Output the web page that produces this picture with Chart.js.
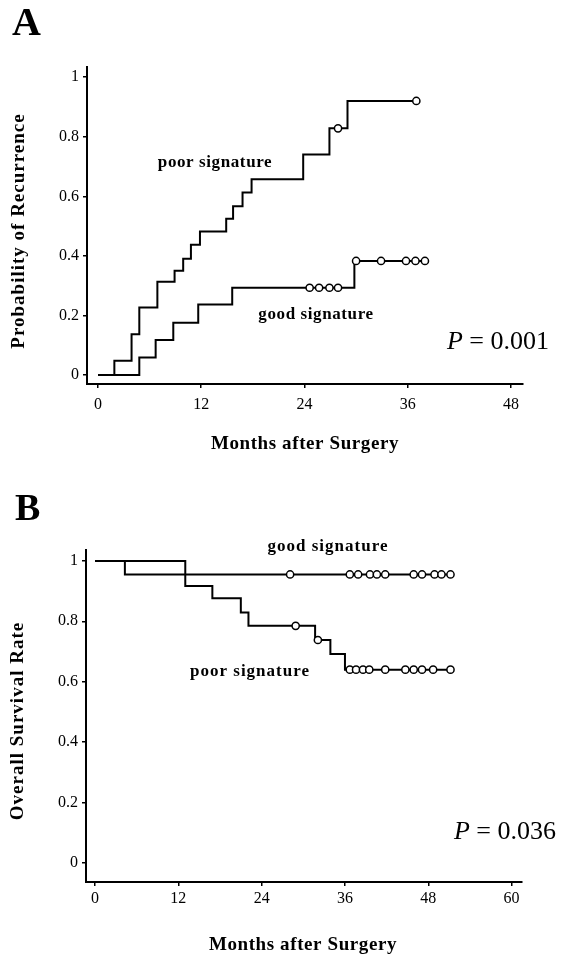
<!DOCTYPE html>
<html>
<head>
<meta charset="utf-8">
<script src="https://cdn.jsdelivr.net/npm/chart.js@4.4.0/dist/chart.umd.min.js"></script>
<style>
  html, body { margin: 0; padding: 0; background: #fff; }
  .panel { position: absolute; left: 0; width: 568px; }
  #wrapA { top: 0; height: 478px; }
  #wrapB { top: 478px; height: 479px; }
</style>
</head>
<body>
<div class="panel" id="wrapA"><canvas id="chartA"></canvas></div>
<div class="panel" id="wrapB"><canvas id="chartB"></canvas></div>
<script>
// ---- data ----
const yTicks = [0, 0.2, 0.4, 0.6, 0.8, 1];
const monthTicksA = [0, 12, 24, 36, 48];
const monthTicksB = [0, 12, 24, 36, 48, 60];

// A: probability of recurrence
const poorTimesA = [0, 1.9, 3.9, 4.8, 6.9, 8.9, 9.9, 10.8, 11.85, 14.9, 15.7, 16.8, 17.85, 23.85, 26.9, 29.0, 37.0];
const poorProbA = [0, 0.048, 0.137, 0.227, 0.313, 0.35, 0.39, 0.437, 0.482, 0.525, 0.567, 0.613, 0.657, 0.74, 0.828, 0.92, 0.92];
const poorCensorA = [27.9, 37.0];
const goodTimesA = [0, 4.8, 6.7, 8.75, 11.65, 15.6, 29.8, 38.0];
const goodProbA = [0, 0.059, 0.118, 0.176, 0.237, 0.293, 0.383, 0.383];
const goodCensorA = [24.6, 25.7, 26.9, 27.9, 30.0, 32.9, 35.8, 36.9, 38.0];

// B: overall survival
const goodTimesB = [0, 4.3, 51.2];
const goodSurvB = [1, 0.955, 0.955];
const goodCensorB = [28.1, 36.7, 37.9, 39.6, 40.6, 41.8, 45.9, 47.1, 48.9, 49.9, 51.2];
const poorTimesB = [0, 13.0, 16.9, 21.0, 22.1, 31.7, 33.9, 36.0, 51.2];
const poorSurvB = [1, 0.917, 0.876, 0.829, 0.785, 0.738, 0.692, 0.64, 0.64];
const poorCensorB = [28.9, 32.1, 36.7, 37.6, 38.6, 39.5, 41.8, 44.7, 45.9, 47.1, 48.7, 51.2];

const SERIF = "'Liberation Serif', 'DejaVu Serif', serif";

function toPoints(times, vals) {
  return times.map((t, i) => ({ x: t, y: vals[i] }));
}

// value of a KM step curve at time t
function valueAt(times, vals, t) {
  let v = vals[0];
  for (let i = 0; i < times.length; i++) {
    if (times[i] <= t) v = vals[i];
  }
  return v;
}

function censorPoints(censor, times, vals) {
  return censor.map(t => ({ x: t, y: valueAt(times, vals, t) }));
}

function curve(points) {
  return {
    type: "line",
    data: points,
    stepped: true,
    borderColor: "#000",
    borderWidth: 2,
    pointRadius: 0,
    fill: false
  };
}

function marks(points) {
  return {
    type: "scatter",
    data: points,
    pointStyle: "circle",
    pointRadius: 3.6,
    pointBackgroundColor: "#fff",
    pointBorderColor: "#000",
    pointBorderWidth: 1.5
  };
}

// draws the panel letter, curve labels, p value and axis titles
const textPlugin = {
  id: "panelText",
  afterDraw(chart, args, opts) {
    const ctx = chart.ctx;
    ctx.save();
    ctx.fillStyle = "#000";
    ctx.textBaseline = "middle";
    (opts.items || []).forEach(it => {
      ctx.save();
      ctx.translate(it.x, it.y);
      if (it.rotate) ctx.rotate(it.rotate);
      ctx.letterSpacing = it.spacing || "0px";
      if (it.parts) {
        let total = 0;
        it.parts.forEach(p => { ctx.font = p.font; total += ctx.measureText(p.text).width; });
        let cx = -total / 2;
        ctx.textAlign = "left";
        it.parts.forEach(p => {
          ctx.font = p.font;
          ctx.fillText(p.text, cx, 0);
          cx += ctx.measureText(p.text).width;
        });
      } else {
        ctx.font = it.font;
        ctx.textAlign = it.align || "center";
        ctx.fillText(it.text, 0, 0);
      }
      ctx.restore();
    });
    ctx.restore();
  }
};

function axes(xMin, xMax, xTicks, yMin, yMax, xHeight, yWidth, xPad) {
  const tickFont = { family: SERIF, size: 16 };
  return {
    x: {
      type: "linear",
      min: xMin,
      max: xMax,
      afterBuildTicks: s => { s.ticks = xTicks.map(v => ({ value: v })); },
      afterFit: s => { s.height = xHeight; },
      grid: { drawOnChartArea: false, color: "#000", tickLength: 4, lineWidth: 1.5 },
      border: { color: "#000", width: 2 },
      ticks: { color: "#000", font: tickFont, padding: xPad, maxRotation: 0 }
    },
    y: {
      type: "linear",
      min: yMin,
      max: yMax,
      afterBuildTicks: s => { s.ticks = yTicks.map(v => ({ value: v })); },
      afterFit: s => { s.width = yWidth; },
      grid: { drawOnChartArea: false, color: "#000", tickLength: 4, lineWidth: 1.5 },
      border: { color: "#000", width: 2 },
      ticks: { color: "#000", font: tickFont, padding: 4, callback: v => String(v) }
    }
  };
}

const labelFont = "bold 17px " + SERIF;
const titleFont = "bold 19px " + SERIF;

new Chart(document.getElementById("chartA"), {
  data: {
    datasets: [
      marks(censorPoints(poorCensorA, poorTimesA, poorProbA)),
      marks(censorPoints(goodCensorA, goodTimesA, goodProbA)),
      curve(toPoints(poorTimesA, poorProbA)),
      curve(toPoints(goodTimesA, goodProbA))
    ]
  },
  options: {
    responsive: true,
    maintainAspectRatio: false,
    animation: false,
    layout: { padding: { top: 67, right: 45, left: 0, bottom: 0 } },
    scales: axes(-1.28, 49.4, monthTicksA, -0.03, 1.034, 94, 87, 7),
    plugins: {
      legend: { display: false },
      tooltip: { enabled: false },
      panelText: {
        items: [
          { text: "A", x: 12, y: 25, font: "bold 40px " + SERIF, align: "left" },
          { text: "poor signature", x: 215, y: 163, font: labelFont, spacing: "0.6px" },
          { text: "good signature", x: 316, y: 315, font: labelFont, spacing: "0.6px" },
          { parts: [
              { text: "P", font: "italic 26px " + SERIF },
              { text: " = 0.001", font: "26px " + SERIF }
            ], x: 498, y: 342 },
          { text: "Probability of Recurrence", x: 19, y: 231, rotate: -Math.PI / 2, font: titleFont, spacing: "1px" },
          { text: "Months after Surgery", x: 305, y: 444, font: titleFont, spacing: "0.6px" }
        ]
      }
    }
  },
  plugins: [textPlugin]
});

new Chart(document.getElementById("chartB"), {
  data: {
    datasets: [
      marks(censorPoints(goodCensorB, goodTimesB, goodSurvB)),
      marks(censorPoints(poorCensorB, poorTimesB, poorSurvB)),
      curve(toPoints(goodTimesB, goodSurvB)),
      curve(toPoints(poorTimesB, poorSurvB))
    ]
  },
  options: {
    responsive: true,
    maintainAspectRatio: false,
    animation: false,
    layout: { padding: { top: 72, right: 46, left: 0, bottom: 0 } },
    scales: axes(-1.3, 61.5, monthTicksB, -0.063, 1.036, 75, 86, 3),
    plugins: {
      legend: { display: false },
      tooltip: { enabled: false },
      panelText: {
        items: [
          { text: "B", x: 15, y: 32, font: "bold 38px " + SERIF, align: "left" },
          { text: "good signature", x: 328, y: 69, font: labelFont, spacing: "1px" },
          { text: "poor signature", x: 250, y: 194, font: labelFont, spacing: "1px" },
          { parts: [
              { text: "P", font: "italic 26px " + SERIF },
              { text: " = 0.036", font: "26px " + SERIF }
            ], x: 505, y: 354 },
          { text: "Overall Survival Rate", x: 18, y: 243, rotate: -Math.PI / 2, font: titleFont, spacing: "1px" },
          { text: "Months after Surgery", x: 303, y: 467, font: titleFont, spacing: "0.6px" }
        ]
      }
    }
  },
  plugins: [textPlugin]
});
</script>
</body>
</html>
